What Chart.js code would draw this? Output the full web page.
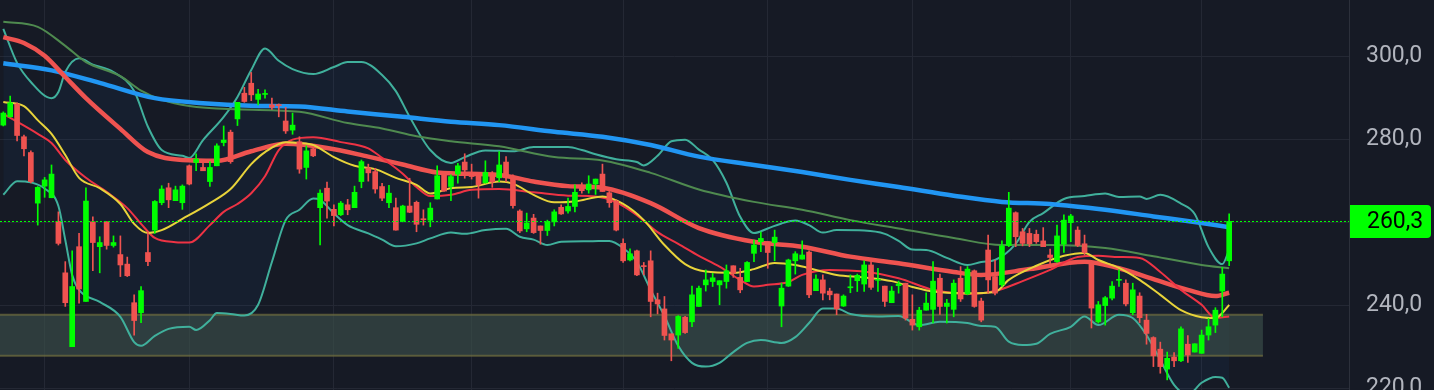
<!DOCTYPE html>
<html>
<head>
<meta charset="utf-8">
<script src="https://cdn.jsdelivr.net/npm/chart.js@4.4.0/dist/chart.umd.min.js"></script>
<style>
  html, body { margin: 0; padding: 0; background: #161a25; overflow: hidden; }
  #wrap { width: 1434px; height: 390px; }
</style>
</head>
<body>
<div id="wrap"><canvas id="chart" width="1434" height="390"></canvas></div>
<script>
// candles, one per session
const candleOpen = [283.5,285.5,288.6,280.7,276.9,264.7,268.8,266.0,260.3,247.9,230.1,254.2,241.0,260.2,254.2,260.2,254.5,252.3,250.0,240.7,
  238.3,252.8,258.2,264.8,268.4,265.3,264.8,273.7,274.5,273.3,269.9,273.7,279.3,281.8,285.0,291.2,293.6,289.7,290.9,288.4,
  288.4,284.5,282.3,279.5,273.3,277.8,263.6,268.3,263.2,261.9,264.3,263.6,269.9,273.2,272.3,268.7,264.8,263.6,260.4,264.0,
  264.9,260.9,260.6,265.7,271.5,268.7,271.7,274.6,271.9,271.5,269.6,271.7,270.8,274.6,271.1,262.8,258.5,261.1,259.2,258.1,
  260.2,263.7,262.8,263.9,268.7,267.9,269.3,271.7,267.2,265.2,255.0,251.0,253.2,249.6,250.8,241.4,239.2,233.2,232.9,237.2,
  236.1,239.8,245.0,245.8,245.0,245.8,249.6,246.8,245.8,252.6,255.4,255.4,255.2,239.9,244.7,250.8,251.2,252.9,243.6,246.2,
  243.5,242.8,239.9,244.3,246.0,245.2,249.8,246.1,244.7,240.7,244.8,245.4,236.7,234.9,238.9,239.1,246.6,239.8,239.1,246.6,
  242.8,248.4,241.1,253.4,247.0,245.0,254.5,262.4,257.8,257.4,257.2,255.6,252.2,250.6,254.8,260.0,258.2,254.9,250.2,236.1,
  240.0,241.8,246.1,245.4,238.3,242.3,236.5,232.3,229.5,224.7,227.6,226.7,230.7,228.8,228.5,232.9,235.3,243.5,250.8];
const candleHigh = [286.7,290.5,288.9,281.1,277.3,268.7,270.9,273.9,262.6,250.6,253.2,257.4,268.4,261.4,256.6,260.2,256.8,256.8,251.7,242.6,
  244.6,257.8,265.3,268.9,269.5,268.8,269.1,273.9,276.6,274.5,274.7,279.0,283.3,282.3,289.0,292.6,296.2,292.1,292.0,290.0,
  288.6,287.8,286.4,280.7,278.5,278.3,267.9,269.8,264.3,265.1,265.6,268.8,275.1,274.1,273.1,269.5,269.0,265.9,264.2,270.7,
  265.2,263.1,264.8,273.7,271.9,271.5,274.3,276.6,274.1,271.9,274.9,272.3,277.1,275.9,271.5,263.1,262.3,262.0,259.2,260.6,
  263.1,264.3,265.9,269.1,269.6,271.3,270.5,274.1,267.5,265.5,256.1,253.7,253.4,250.4,253.2,243.0,242.2,233.2,237.6,237.4,
  244.7,244.7,248.6,247.8,246.0,249.8,249.6,249.0,250.6,255.8,257.7,255.4,258.2,245.4,251.2,253.0,255.6,253.2,247.4,247.4,
  244.2,242.8,242.6,247.4,247.6,250.8,250.6,249.0,244.7,244.6,245.9,245.4,242.6,239.6,243.1,250.6,247.6,241.5,246.2,249.4,
  249.4,248.6,241.8,257.0,251.0,255.6,267.3,262.6,258.6,258.6,258.2,258.8,253.6,259.4,261.9,262.0,259.0,257.0,250.6,241.0,
  242.2,245.8,248.6,246.2,245.4,243.1,237.9,232.5,231.2,228.8,228.7,234.9,232.8,230.8,234.1,236.9,239.5,249.2,262.1];
const candleLow = [283.3,285.4,279.7,276.1,269.6,259.4,266.1,266.0,254.6,239.8,230.1,240.6,241.0,248.4,247.9,253.6,254.1,247.0,247.0,232.9,
  235.9,249.6,257.4,264.3,263.6,265.3,263.2,269.1,272.5,272.5,268.7,273.7,278.5,274.3,283.4,289.0,289.4,288.4,290.0,287.3,
  285.5,281.5,281.3,271.9,270.5,275.9,254.6,261.1,259.2,261.7,261.9,263.6,268.4,270.0,267.1,265.3,263.6,258.2,260.2,262.4,
  257.8,259.4,259.0,265.7,267.5,265.3,269.5,270.7,270.5,265.9,269.5,268.5,269.9,269.9,263.5,257.6,257.8,257.4,254.8,256.9,
  259.2,262.0,262.3,262.6,267.1,267.1,266.8,267.5,263.7,258.0,250.4,250.8,247.2,247.4,237.3,238.0,231.7,226.7,229.7,233.3,
  234.9,239.8,243.5,244.6,240.2,244.2,246.8,243.1,245.8,250.6,253.0,249.0,250.8,234.9,244.6,247.6,251.2,241.9,243.6,241.4,
  241.4,237.8,239.8,243.1,243.4,243.4,243.9,243.4,239.8,240.7,243.0,236.5,234.1,234.1,238.9,235.8,237.9,235.8,237.3,241.0,
  242.6,239.6,236.1,243.0,242.6,244.6,254.2,254.2,254.4,254.2,255.0,254.2,249.8,250.4,252.8,255.4,254.2,252.2,234.6,235.8,
  235.3,241.4,244.6,239.9,237.8,235.9,230.7,225.3,223.7,222.1,225.3,226.5,226.3,228.8,228.5,231.7,233.5,237.3,249.6];
const candleClose = [286.4,288.9,281.0,277.8,269.9,268.5,270.3,271.7,255.0,240.7,244.6,244.0,265.2,255.2,255.2,254.5,255.2,249.8,247.2,236.4,
  243.6,250.6,265.1,268.1,265.5,267.9,268.8,269.3,275.3,272.5,273.3,278.5,279.9,274.7,289.0,289.2,290.8,291.0,291.1,287.8,
  288.2,282.1,283.5,272.9,277.3,276.1,267.1,265.2,261.7,264.7,263.1,267.3,274.7,272.0,268.1,265.9,267.1,258.2,264.0,262.5,
  259.6,260.7,263.5,271.3,267.6,271.1,273.7,272.7,271.1,269.1,272.1,269.8,273.9,270.8,264.1,258.0,259.9,257.6,258.1,260.2,
  262.6,262.1,263.9,267.3,267.7,269.3,270.5,267.5,264.8,258.2,250.8,252.5,247.4,249.4,241.0,240.4,232.8,231.7,237.4,233.5,
  242.6,244.2,246.2,246.7,246.0,248.4,247.8,243.8,250.4,254.6,256.2,252.8,256.5,244.2,251.0,252.5,252.2,242.6,246.4,243.0,
  242.6,239.2,242.3,244.5,247.3,249.8,244.4,246.3,241.0,243.5,245.2,237.0,235.3,238.9,240.6,245.9,239.8,240.6,245.4,241.6,
  248.8,239.8,236.5,246.2,243.0,254.4,263.5,256.6,255.0,254.9,255.4,254.2,251.6,256.8,260.6,261.6,254.5,252.8,239.4,240.2,
  241.9,244.7,246.3,240.4,243.8,237.1,233.3,227.9,225.3,227.3,226.7,234.4,228.1,230.8,232.9,234.9,238.9,247.6,260.3];

// moving averages, sampled at candle indices
const blueIdx = [0,7,14,22,29,36,43,50,58,65,72,80,87,94,101,109,116,123,130,138,145,152,160,167,174,178];
const blueVal = [298.4,296.7,293.7,290.0,288.8,288.2,288.0,286.8,285.5,284.3,283.5,281.9,280.7,278.7,275.9,273.9,272.2,270.3,268.6,266.5,265.0,264.5,263.1,261.5,259.9,258.9];
const greenIdx = [0,5,9,12,17,20,23,27,34,43,50,55,60,65,72,80,87,94,101,109,116,123,130,138,145,152,160,167,174,178];
const greenVal = [308.4,307.2,302.6,298.7,295.3,291.8,289.6,288.1,287.3,286.7,284.0,282.7,280.8,279.6,278.4,275.8,275.0,272.0,268.0,265.0,263.1,260.6,258.6,256.3,254.6,254.6,253.9,251.9,249.8,249.0];
const redThickIdx = [0,3,6,9,12,17,21,26,31,36,41,47,53,58,63,72,77,82,87,94,101,109,116,123,130,138,142,149,157,162,167,172,176,178];
const redThickVal = [304.7,303.3,300.2,295.1,290.0,282.6,277.0,275.1,274.9,277.2,279.0,278.0,275.9,274.0,272.1,271.5,269.9,268.8,268.4,264.7,258.7,255.4,254.2,251.8,250.2,248.1,247.4,248.8,250.6,249.0,246.4,243.8,242.3,243.1];
const redThinIdx = [0,5,7,9,12,15,18,20,22,25,27,30,32,34,36,38,40,42,45,49,53,55,58,60,62,65,68,72,77,82,86,89,92,95,98,101,104,107,109,111,114,116,120,125,130,135,140,144,148,152,156,159,162,165,168,171,174,176,178];
const redThinVal = [286.2,281.4,279.2,275.1,270.8,267.4,263.5,259.7,256.3,255.3,255.2,259.4,262.6,264.5,267.1,271.2,277.5,280.0,280.6,279.4,277.9,275.6,271.8,268.6,266.4,266.7,267.9,268.1,267.3,266.5,266.3,264.9,261.8,257.7,254.9,252.0,249.4,246.2,244.6,245.0,245.7,247.4,248.6,248.2,246.6,243.8,242.8,243.5,245.9,248.6,251.7,252.0,251.7,251.5,248.1,243.8,240.2,237.0,237.4];
const yellowIdx = [0,3,5,7,9,11,14,17,19,21,23,26,30,33,36,38,41,43,45,48,51,54,57,60,62,65,68,72,74,77,80,83,87,90,93,96,99,102,106,109,112,115,118,121,125,129,132,135,140,144,146,150,154,157,159,162,165,168,171,174,176,177,178];
const yellowVal = [289.1,288.1,284.7,281.4,276.3,270.8,268.3,264.5,259.7,257.5,258.2,260.9,264.7,268.1,274.1,277.0,279.4,279.2,278.7,275.8,273.7,272.9,270.8,269.1,267.0,268.3,268.6,269.9,269.4,266.7,264.9,265.1,266.3,264.5,260.6,254.6,250.0,248.2,247.9,248.8,250.3,249.8,248.6,247.4,246.8,245.9,244.5,243.4,243.0,243.3,246.2,249.6,252.0,252.7,251.0,249.1,246.2,242.6,238.9,237.2,237.0,238.2,240.2];

// bollinger bands
const bbUpIdx = [0,2,4,7,8,9,11,13,16,19,21,23,26,27,29,32,34,36,38,40,42,45,48,50,52,55,57,59,62,65,67,70,74,77,82,84,86,89,92,93,95,97,99,101,103,105,107,109,111,113,115,117,119,121,125,128,130,132,134,137,140,142,144,147,149,151,154,157,160,162,165,166,168,171,173,175,177,178];
const bbUpVal = [306.7,298.5,293.9,290.0,291.5,296.3,299.6,298.1,296.3,291.7,283.1,277.5,276.1,275.6,279.9,285.5,290.3,296.8,302.0,299.0,297.0,295.8,297.5,298.7,298.7,295.6,291.7,285.5,277.5,274.4,275.8,277.4,277.2,278.2,278.2,277.5,276.5,275.3,274.6,273.8,276.1,279.6,280.0,277.6,275.1,269.6,261.4,257.5,258.6,259.8,260.5,259.4,257.6,258.2,258.1,257.3,255.6,253.5,253.4,251.5,249.8,250.5,251.0,254.9,260.2,262.3,265.7,266.4,267.0,266.2,266.3,265.7,266.7,264.6,262.1,254.1,250.0,253.4];
const bbLowIdx = [0,2,4,6,8,9,10,11,14,17,19,20,22,24,27,28,30,31,33,35,37,39,41,43,45,46,48,50,53,55,57,60,62,65,67,70,73,75,77,79,81,85,88,90,92,94,96,98,100,102,104,106,108,110,113,115,117,119,121,123,127,130,133,136,140,142,144,146,148,150,152,155,157,159,162,164,166,168,170,172,174,176,177,178];
const bbLowVal = [266.7,270.0,269.7,268.2,264.0,255.8,247.4,243.8,240.9,237.3,231.2,230.3,232.7,234.4,234.9,234.1,236.5,238.2,238.0,237.6,240.2,250.5,260.6,263.1,265.8,265.5,262.2,259.4,257.4,255.9,254.3,255.0,256.2,257.6,257.3,258.2,258.5,256.6,255.9,254.6,255.4,255.5,255.6,253.9,250.5,243.8,237.5,230.3,226.2,225.3,226.2,228.8,231.0,231.7,231.0,232.4,235.8,239.3,239.3,238.0,237.4,237.5,235.3,236.1,235.8,235.1,234.9,231.3,230.5,230.8,233.2,234.9,237.4,235.3,237.8,237.0,232.9,226.9,220.9,218.5,221.4,222.8,222.6,220.2];

const gridIdx = [6, 27, 48, 68, 90, 111, 132, 155, 174];
const priceTicks = [220, 240, 260, 280, 300];
const zoneLow = 227.9, zoneHigh = 237.8, zoneEnd = 182.9;
const lastPrice = candleClose[candleClose.length - 1];

const upColor = '#00ff00', downColor = '#ef5350';
const candleColors = candleClose.map((c, i) => c >= candleOpen[i] ? upColor : downColor);
const fmt = v => v.toFixed(1).replace('.', ',');

function pts(idx, vals) {
  return idx.map((x, k) => ({ x: x, y: vals[k] }));
}
function lineSet(label, idx, vals, color, width, order) {
  return {
    type: 'line', label: label, data: pts(idx, vals),
    borderColor: color, borderWidth: width, pointRadius: 0,
    cubicInterpolationMode: 'monotone', fill: false, order: order
  };
}

const overlays = {
  id: 'overlays',
  beforeDraw(chart) {
    const c = chart.ctx;
    c.save();
    c.fillStyle = '#161a25';
    c.fillRect(0, 0, chart.width, chart.height);
    c.restore();
  },
  beforeDatasetsDraw(chart) {
    const { ctx, chartArea, scales: { x, y } } = chart;
    const x0 = chartArea.left, x1 = x.getPixelForValue(zoneEnd);
    const yTop = y.getPixelForValue(zoneHigh), yBot = y.getPixelForValue(zoneLow);
    ctx.save();
    ctx.fillStyle = 'rgba(62,82,76,0.62)';
    ctx.fillRect(x0, yTop, x1 - x0, yBot - yTop);
    ctx.strokeStyle = 'rgba(112,110,62,0.7)';
    ctx.lineWidth = 2;
    ctx.beginPath();
    ctx.moveTo(x0, yTop); ctx.lineTo(x1, yTop);
    ctx.moveTo(x0, yBot); ctx.lineTo(x1, yBot);
    ctx.stroke();
    ctx.restore();
  },
  afterDatasetsDraw(chart) {
    const { ctx, chartArea, scales: { y } } = chart;
    const py = Math.round(y.getPixelForValue(lastPrice)) + 0.5;
    ctx.save();
    ctx.strokeStyle = upColor;
    ctx.lineWidth = 1;
    ctx.setLineDash([2, 2]);
    ctx.beginPath();
    ctx.moveTo(chartArea.left, py);
    ctx.lineTo(chartArea.right, py);
    ctx.stroke();
    ctx.restore();
  },
  afterDraw(chart) {
    const { ctx, chartArea, scales: { y } } = chart;
    const py = y.getPixelForValue(lastPrice);
    const left = chartArea.right + 1, right = chart.width - 3, h = 33, r = 4;
    const top = py - h / 2;
    ctx.save();
    ctx.fillStyle = upColor;
    ctx.beginPath();
    ctx.moveTo(left, top);
    ctx.lineTo(right - r, top);
    ctx.quadraticCurveTo(right, top, right, top + r);
    ctx.lineTo(right, top + h - r);
    ctx.quadraticCurveTo(right, top + h, right - r, top + h);
    ctx.lineTo(left, top + h);
    ctx.closePath();
    ctx.fill();
    ctx.fillStyle = '#000000';
    ctx.font = '23px Roboto';
    ctx.textAlign = 'left';
    ctx.textBaseline = 'middle';
    ctx.fillText(fmt(lastPrice), chartArea.right + 18, py + 1);
    ctx.restore();
  }
};

new Chart(document.getElementById('chart'), {
  type: 'bar',
  data: {
    datasets: [
      {
        label: 'body', order: 0, grouped: false, barThickness: 5, minBarLength: 1, borderWidth: 0,
        data: candleClose.map((c, i) => ({ x: i, y: [candleOpen[i], c] })),
        backgroundColor: candleColors
      },
      {
        label: 'wick', order: 1, grouped: false, barThickness: 1, borderWidth: 0,
        data: candleClose.map((c, i) => ({ x: i, y: [candleLow[i], candleHigh[i]] })),
        backgroundColor: candleColors
      },
      lineSet('MA10', yellowIdx, yellowVal, '#e8d33a', 2, 2),
      lineSet('MA20', redThinIdx, redThinVal, '#ee3344', 2, 3),
      lineSet('MA50', redThickIdx, redThickVal, '#ef5350', 4.5, 4),
      lineSet('MA200', blueIdx, blueVal, '#2196f3', 4.5, 5),
      lineSet('MA100', greenIdx, greenVal, '#4f8a4f', 2, 6),
      Object.assign(lineSet('BB upper', bbUpIdx, bbUpVal, '#40b09c', 2, 7),
        { fill: '+1', backgroundColor: 'rgba(40,120,220,0.06)' }),
      lineSet('BB lower', bbLowIdx, bbLowVal, '#40b09c', 2, 8)
    ]
  },
  options: {
    responsive: false,
    devicePixelRatio: 1,
    animation: false,
    layout: { padding: 0 },
    plugins: {
      legend: { display: false },
      tooltip: { enabled: false },
      filler: { drawTime: 'beforeDatasetsDraw' }
    },
    scales: {
      x: {
        type: 'linear', min: -0.48, max: 195.4, offset: false,
        grid: { color: '#242834', lineWidth: 1, drawTicks: false, offset: false },
        border: { display: false },
        ticks: { display: false },
        afterBuildTicks: s => { s.ticks = gridIdx.map(v => ({ value: v })); },
        afterFit: s => { s.height = 0; }
      },
      y: {
        position: 'right', min: 219.66, max: 313.66,
        grid: { color: '#242834', lineWidth: 1, drawTicks: false },
        border: { display: true, color: '#2c303b' },
        ticks: {
          color: '#b2b5be', padding: 17,
          font: { family: 'Roboto', size: 23 },
          callback: v => fmt(v)
        },
        afterBuildTicks: s => { s.ticks = priceTicks.map(v => ({ value: v })); },
        afterFit: s => { s.width = 85; s.paddingTop = 0; s.paddingBottom = 0; }
      }
    }
  },
  plugins: [overlays]
});
</script>
</body>
</html>
